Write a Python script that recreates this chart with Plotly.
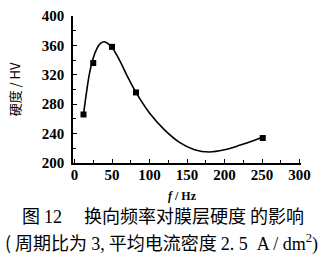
import plotly.graph_objects as go

# measured points
f_pts = [12, 25, 50, 82, 251]
hv_pts = [266, 336, 358, 296, 234]

# fitted curve
f_curve = [12, 16, 20, 25, 30, 35, 40, 45, 50, 60, 70, 82, 100, 120, 140, 160, 180, 200, 220, 240, 250]
hv_curve = [266, 296, 322, 343, 356, 363, 365, 362, 357, 340, 319, 296, 268, 245, 228, 218, 215, 218, 224, 231, 235]

x_ticks = [0, 50, 100, 150, 200, 250, 300]
y_ticks = [200, 240, 280, 320, 360, 400]

fig = go.Figure()
fig.add_trace(go.Scatter(x=f_curve, y=hv_curve, mode="lines",
                         line=dict(color="black", width=1.6, shape="spline"),
                         hoverinfo="skip"))
fig.add_trace(go.Scatter(x=f_pts, y=hv_pts, mode="markers",
                         marker=dict(color="black", size=6, symbol="square")))

SERIF = "Liberation Serif"
CJK = "Noto Sans CJK SC"
tickfont = dict(family=SERIF, size=15, color="black", weight="bold")


def serif(s):
    return f'<span style="font-family:{SERIF}">{s}</span>'


fig.update_layout(
    width=322, height=259,
    margin=dict(l=73, r=21, t=8, b=96),
    paper_bgcolor="white", plot_bgcolor="white",
    showlegend=False,
    xaxis=dict(range=[-2, 302], tickvals=x_ticks, ticks="inside", ticklen=4,
               showline=True, linecolor="black", linewidth=1.5, showgrid=False,
               zeroline=False, tickfont=tickfont, tickcolor="black",
               ticklabelstandoff=-3,
               minor=dict(dtick=25, ticks="inside", ticklen=3, tickcolor="black")),
    yaxis=dict(range=[200, 400], tickvals=y_ticks, ticks="inside", ticklen=4,
               showline=True, linecolor="black", linewidth=1.5, showgrid=False,
               zeroline=False, tickfont=tickfont, tickcolor="black",
               ticklabelstandoff=4,
               minor=dict(dtick=20, ticks="inside", ticklen=3, tickcolor="black")),
    annotations=[
        dict(text="硬度 / HV", x=-0.255, y=0.5, xref="paper", yref="paper", showarrow=False,
             textangle=-90, font=dict(family=CJK, size=13, color="black"),
             xanchor="center", yanchor="middle"),
        dict(text="<b><i>f</i> / Hz</b>", x=0.48, y=-0.225, xref="paper", yref="paper",
             showarrow=False, xanchor="center", yanchor="middle",
             font=dict(family=SERIF, size=12, color="black")),
        dict(text="图 " + serif("12") + "　 换向频率对膜层硬度 的影响", x=0.395, y=-0.355,
             xref="paper", yref="paper", showarrow=False, xanchor="center", yanchor="middle",
             font=dict(family=CJK, size=18, color="black")),
        dict(text="( 周期比为 " + serif("3,") + " 平均电流密度 " + serif("2. 5  A / dm<sup>2</sup>)"),
             x=0.388, y=-0.535, xref="paper", yref="paper", showarrow=False,
             xanchor="center", yanchor="middle",
             font=dict(family=CJK, size=18, color="black")),
    ],
)
fig.write_html("out.html")
